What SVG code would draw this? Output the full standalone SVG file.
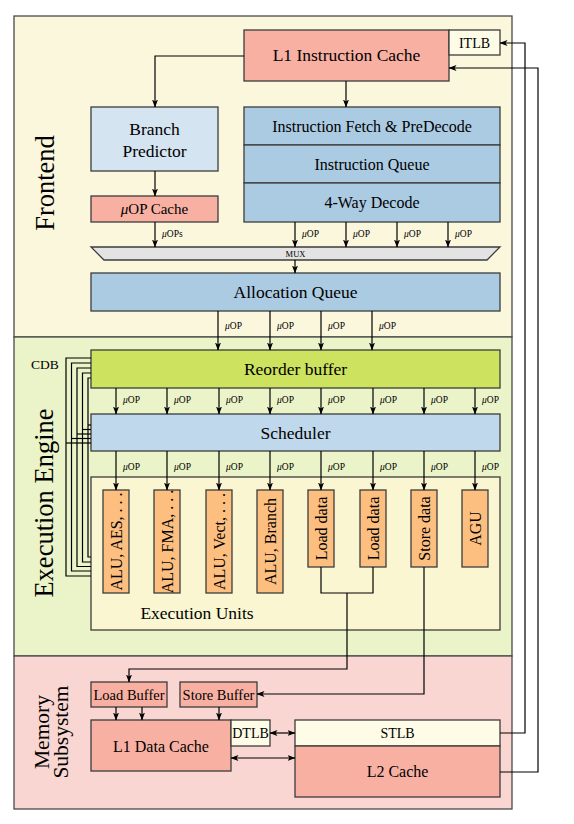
<svg xmlns="http://www.w3.org/2000/svg" width="574" height="824" viewBox="0 0 574 824">
<defs>
<marker id="ah" viewBox="0 0 8 6" refX="7.5" refY="3" markerWidth="8" markerHeight="6" markerUnits="userSpaceOnUse" orient="auto-start-reverse">
<path d="M0,0 L8,3 L0,6 L2,3 z" fill="#000"/>
</marker>
</defs>
<style>
text{font-family:"Liberation Serif","Times New Roman",serif;fill:#000}
.sec{stroke:#4a4a4a;stroke-width:1.3}
.box{stroke:#3c3c3c;stroke-width:1.3}
.salmon{fill:#f8b0a3}
.lblue{fill:#d5e4f1}
.blue{fill:#abcbe3}
.cream{fill:#fefbe6}
.unit{fill:#fdbf7f}
.t17{font-size:17.5px;text-anchor:middle}
.t16{font-size:16px;text-anchor:middle}
.t14{font-size:14px;text-anchor:middle}
.u{font-size:9.5px}
.big{font-size:26.5px;text-anchor:middle}
.w{fill:none;stroke:#000;stroke-width:1.2}
.a{fill:none;stroke:#000;stroke-width:1.2;marker-end:url(#ah)}
.d{fill:none;stroke:#000;stroke-width:1.2;marker-end:url(#ah);marker-start:url(#ah)}
</style>

<g id="sections">
<rect id="frontend" class="sec" x="14" y="16" width="498" height="321" fill="#faf7dd"/>
<rect id="execution-engine" class="sec" x="14" y="337" width="498" height="319" fill="#ebf3c9"/>
<rect id="memory-subsystem" class="sec" x="14" y="656" width="498" height="153" fill="#f9d6d1"/>
<text class="big" transform="translate(54,183) rotate(-90)">Frontend</text>
<text class="big" transform="translate(53,503) rotate(-90)">Execution Engine</text>
<text font-size="21.5px" text-anchor="middle" transform="translate(49,732) rotate(-90)">Memory</text>
<text font-size="21.5px" text-anchor="middle" transform="translate(68,732) rotate(-90)">Subsystem</text>
<text font-size="13.5px" x="31" y="369">CDB</text>
</g>

<g id="l1i"><rect class="box salmon" x="244" y="30" width="205" height="51"/><text class="t17" x="346.5" y="61">L1 Instruction Cache</text></g>
<g id="itlb"><rect class="box cream" x="449" y="30" width="51" height="25"/><text class="t14" x="474.5" y="47.5">ITLB</text></g>
<g id="bp"><rect class="box lblue" x="91" y="107" width="127" height="64"/><text class="t17" x="154.5" y="135">Branch</text><text class="t17" x="154.5" y="157">Predictor</text></g>
<g id="ifpd"><rect class="box blue" x="244" y="107" width="256" height="38"/><text class="t16" x="372" y="131.5">Instruction Fetch &amp; PreDecode</text></g>
<g id="iq"><rect class="box blue" x="244" y="145" width="256" height="38"/><text class="t16" x="372" y="169.5">Instruction Queue</text></g>
<g id="dec"><rect class="box blue" x="244" y="183" width="256" height="39"/><text class="t16" x="372" y="207.5">4-Way Decode</text></g>
<g id="uopcache"><rect class="box salmon" x="91" y="196" width="127" height="26"/><text font-size="15px" text-anchor="middle" x="154.5" y="214"><tspan font-style="italic">μ</tspan>OP Cache</text></g>
<g id="mux"><polygon class="box" fill="#e3e3e3" points="91,247 500,247 487,260 104,260"/><text font-size="8.5px" text-anchor="middle" x="295.5" y="257">MUX</text></g>
<g id="alloc"><rect class="box blue" x="91" y="273" width="409" height="38"/><text class="t17" x="295.5" y="298">Allocation Queue</text></g>
<g id="rob"><rect class="box" fill="#cde35f" x="91" y="350" width="409" height="38"/><text class="t17" x="295.5" y="375">Reorder buffer</text></g>
<g id="sched"><rect class="box" fill="#c0d8eb" x="91" y="414" width="409" height="37"/><text class="t17" x="295.5" y="439">Scheduler</text></g>
<g id="eu"><rect class="box" fill="#faf6d1" x="91" y="477" width="409" height="153"/><text class="t17" x="197" y="619">Execution Units</text></g>
<g id="u1"><rect class="box unit" x="103" y="490" width="26" height="103"/><text class="t16" transform="translate(121.5,541.5) rotate(-90)">ALU, AES, . . .</text></g>
<g id="u2"><rect class="box unit" x="154" y="490" width="26" height="103"/><text class="t16" transform="translate(172.5,541.5) rotate(-90)">ALU, FMA, . . .</text></g>
<g id="u3"><rect class="box unit" x="206" y="490" width="26" height="103"/><text class="t16" transform="translate(224.5,541.5) rotate(-90)">ALU, Vect, . . .</text></g>
<g id="u4"><rect class="box unit" x="257" y="490" width="26" height="103"/><text class="t16" transform="translate(275.5,541.5) rotate(-90)">ALU, Branch</text></g>
<g id="u5"><rect class="box unit" x="308" y="490" width="26" height="77"/><text class="t16" transform="translate(326.5,528.5) rotate(-90)">Load data</text></g>
<g id="u6"><rect class="box unit" x="360" y="490" width="26" height="77"/><text class="t16" transform="translate(378.5,528.5) rotate(-90)">Load data</text></g>
<g id="u7"><rect class="box unit" x="411" y="490" width="26" height="77"/><text class="t16" transform="translate(429.5,528.5) rotate(-90)">Store data</text></g>
<g id="u8"><rect class="box unit" x="462" y="490" width="26" height="77"/><text class="t16" transform="translate(480.5,528.5) rotate(-90)">AGU</text></g>
<g id="lb"><rect class="box salmon" x="91" y="682" width="76" height="25"/><text font-size="14.5px" text-anchor="middle" x="129" y="699.5">Load Buffer</text></g>
<g id="sb"><rect class="box salmon" x="180" y="682" width="77" height="25"/><text font-size="14.5px" text-anchor="middle" x="218.5" y="699.5">Store Buffer</text></g>
<g id="l1d"><rect class="box salmon" x="91" y="720" width="140" height="51"/><text class="t16" x="161" y="752">L1 Data Cache</text></g>
<g id="dtlb"><rect class="box cream" x="231" y="720" width="39" height="26"/><text class="t14" x="250.5" y="738">DTLB</text></g>
<g id="stlb"><rect class="box cream" x="295" y="720" width="205" height="26"/><text class="t14" x="397.5" y="738">STLB</text></g>
<g id="l2"><rect class="box salmon" x="295" y="746" width="205" height="51"/><text class="t16" x="397.5" y="777">L2 Cache</text></g>

<g id="connectors">
<polyline class="a" points="244,56 155,56 155,107"/>
<line class="a" x1="346" y1="81" x2="346" y2="107"/>
<line class="a" x1="155" y1="171" x2="155" y2="196"/>
<line class="a" x1="155" y1="222" x2="155" y2="247"/>
<line class="a" x1="295" y1="222" x2="295" y2="247"/>
<line class="a" x1="346" y1="222" x2="346" y2="247"/>
<line class="a" x1="397" y1="222" x2="397" y2="247"/>
<line class="a" x1="448" y1="222" x2="448" y2="247"/>
<line class="a" x1="295" y1="260" x2="295" y2="273"/>
<line class="a" x1="218" y1="311" x2="218" y2="350"/>
<line class="a" x1="270" y1="311" x2="270" y2="350"/>
<line class="a" x1="321" y1="311" x2="321" y2="350"/>
<line class="a" x1="372" y1="311" x2="372" y2="350"/>
<line class="a" x1="116" y1="388" x2="116" y2="414"/>
<line class="a" x1="167" y1="388" x2="167" y2="414"/>
<line class="a" x1="219" y1="388" x2="219" y2="414"/>
<line class="a" x1="270" y1="388" x2="270" y2="414"/>
<line class="a" x1="321" y1="388" x2="321" y2="414"/>
<line class="a" x1="373" y1="388" x2="373" y2="414"/>
<line class="a" x1="424" y1="388" x2="424" y2="414"/>
<line class="a" x1="475" y1="388" x2="475" y2="414"/>
<line class="a" x1="116" y1="451" x2="116" y2="490"/>
<line class="a" x1="167" y1="451" x2="167" y2="490"/>
<line class="a" x1="219" y1="451" x2="219" y2="490"/>
<line class="a" x1="270" y1="451" x2="270" y2="490"/>
<line class="a" x1="321" y1="451" x2="321" y2="490"/>
<line class="a" x1="373" y1="451" x2="373" y2="490"/>
<line class="a" x1="424" y1="451" x2="424" y2="490"/>
<line class="a" x1="475" y1="451" x2="475" y2="490"/>
<polyline class="w" points="321,567 321,593 373,593 373,567"/>
<polyline class="a" points="347,593 347,669 129,669 129,682"/>
<polyline class="a" points="424,567 424,694 257,694"/>
<line class="a" x1="116" y1="707" x2="116" y2="720"/>
<line class="a" x1="142" y1="707" x2="142" y2="720"/>
<line class="a" x1="219" y1="707" x2="219" y2="720"/>
<line class="d" x1="270" y1="733" x2="295" y2="733"/>
<line class="d" x1="231" y1="758" x2="295" y2="758"/>
<polyline class="a" points="500,733 525,733 525,43 500,43"/>
<polyline class="a" points="500,772 538,772 538,68 449,68"/>
<polyline class="w" points="91,358 66,358 66,576 91,576"/>
<polyline class="w" points="91,363 71.5,363 71.5,571 91,571"/>
<polyline class="w" points="91,368 77,368 77,566.5 91,566.5"/>
<polyline class="w" points="91,373 82.5,373 82.5,562 91,562"/>
<polyline class="w" points="91,378 88,378 88,557 91,557"/>
<line class="w" x1="66" y1="443" x2="91" y2="443"/>
<line class="w" x1="71.5" y1="438.5" x2="91" y2="438.5"/>
<line class="w" x1="77" y1="434" x2="91" y2="434"/>
<line class="w" x1="82.5" y1="429.5" x2="91" y2="429.5"/>
<line class="w" x1="88" y1="425" x2="91" y2="425"/>
<text class="u" x="162" y="237"><tspan font-style="italic">μ</tspan>OPs</text>
<text class="u" x="302" y="237"><tspan font-style="italic">μ</tspan>OP</text>
<text class="u" x="353" y="237"><tspan font-style="italic">μ</tspan>OP</text>
<text class="u" x="404" y="237"><tspan font-style="italic">μ</tspan>OP</text>
<text class="u" x="455" y="237"><tspan font-style="italic">μ</tspan>OP</text>
<text class="u" x="225" y="329"><tspan font-style="italic">μ</tspan>OP</text>
<text class="u" x="277" y="329"><tspan font-style="italic">μ</tspan>OP</text>
<text class="u" x="328" y="329"><tspan font-style="italic">μ</tspan>OP</text>
<text class="u" x="379" y="329"><tspan font-style="italic">μ</tspan>OP</text>
<text class="u" x="123" y="403"><tspan font-style="italic">μ</tspan>OP</text>
<text class="u" x="174" y="403"><tspan font-style="italic">μ</tspan>OP</text>
<text class="u" x="226" y="403"><tspan font-style="italic">μ</tspan>OP</text>
<text class="u" x="277" y="403"><tspan font-style="italic">μ</tspan>OP</text>
<text class="u" x="328" y="403"><tspan font-style="italic">μ</tspan>OP</text>
<text class="u" x="380" y="403"><tspan font-style="italic">μ</tspan>OP</text>
<text class="u" x="431" y="403"><tspan font-style="italic">μ</tspan>OP</text>
<text class="u" x="482" y="403"><tspan font-style="italic">μ</tspan>OP</text>
<text class="u" x="123" y="470"><tspan font-style="italic">μ</tspan>OP</text>
<text class="u" x="174" y="470"><tspan font-style="italic">μ</tspan>OP</text>
<text class="u" x="226" y="470"><tspan font-style="italic">μ</tspan>OP</text>
<text class="u" x="277" y="470"><tspan font-style="italic">μ</tspan>OP</text>
<text class="u" x="328" y="470"><tspan font-style="italic">μ</tspan>OP</text>
<text class="u" x="380" y="470"><tspan font-style="italic">μ</tspan>OP</text>
<text class="u" x="431" y="470"><tspan font-style="italic">μ</tspan>OP</text>
<text class="u" x="482" y="470"><tspan font-style="italic">μ</tspan>OP</text>
</g>
</svg>
